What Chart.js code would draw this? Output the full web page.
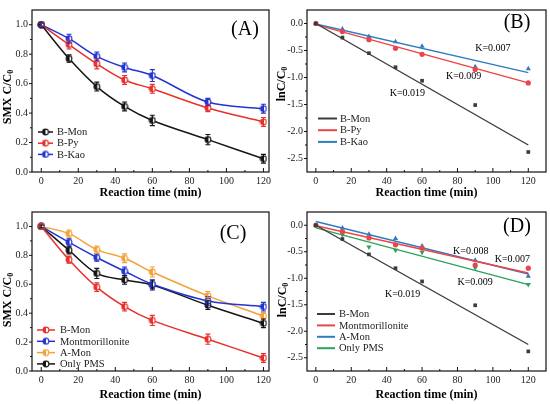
<!DOCTYPE html>
<html>
<head>
<meta charset="utf-8">
<script src="https://cdn.jsdelivr.net/npm/chart.js@4.4.1/dist/chart.umd.min.js"></script>
<style>
  body { margin: 0; background: #fff; }
  #wrap { position: relative; width: 550px; height: 404px; }
  .panel { position: absolute; width: 275px; height: 202px; }
</style>
</head>
<body>
<div id="wrap">
  <div class="panel" style="left:0;top:0"><canvas id="chartA" width="275" height="202"></canvas></div>
  <div class="panel" style="left:275px;top:0"><canvas id="chartB" width="275" height="202"></canvas></div>
  <div class="panel" style="left:0;top:202px"><canvas id="chartC" width="275" height="202"></canvas></div>
  <div class="panel" style="left:275px;top:202px"><canvas id="chartD" width="275" height="202"></canvas></div>
</div>
<script>
const times = [0, 15, 30, 45, 60, 90, 120];
const xTicks = [0, 20, 40, 60, 80, 100, 120];
const ratioTicks = [0.0, 0.2, 0.4, 0.6, 0.8, 1.0];
const lnTicks = [0.0, -0.5, -1.0, -1.5, -2.0, -2.5];

// panel A : C/C0
const namesA = ["B-Mon", "B-Py", "B-Kao"];
const bMonRatio = [1.0, 0.77, 0.58, 0.445, 0.35, 0.22, 0.09];
const bPyRatio = [1.0, 0.865, 0.735, 0.625, 0.565, 0.435, 0.34];
const bKaoRatio = [1.0, 0.905, 0.785, 0.71, 0.655, 0.475, 0.43];
const bMonErr = [0.01, 0.025, 0.03, 0.03, 0.035, 0.035, 0.03];
const bPyErr = [0.01, 0.03, 0.035, 0.03, 0.03, 0.025, 0.03];
const bKaoErr = [0.01, 0.03, 0.03, 0.03, 0.04, 0.025, 0.03];

// panel B : lnC/C0
const bMonLn = [0.0, -0.26, -0.55, -0.81, -1.06, -1.51, -2.38];
const bPyLn = [0.0, -0.15, -0.30, -0.46, -0.57, -0.85, -1.10];
const bKaoLn = [0.0, -0.10, -0.24, -0.34, -0.42, -0.80, -0.84];
const fitX = [0, 120];
const bMonFit = [0.0, -2.25];
const bPyFit = [-0.02, -1.10];
const bKaoFit = [-0.01, -0.91];
const kLabelsB = ["K=0.007", "K=0.009", "K=0.019"];

// panel C : C/C0
const namesC = ["B-Mon", "Montmorillonite", "A-Mon", "Only PMS"];
const montRatio = [1.0, 0.89, 0.785, 0.69, 0.60, 0.485, 0.445];
const aMonRatio = [1.0, 0.95, 0.84, 0.78, 0.685, 0.52, 0.38];
const pmsRatio = [1.0, 0.835, 0.675, 0.63, 0.595, 0.455, 0.33];
const montErr = [0.01, 0.025, 0.025, 0.03, 0.03, 0.03, 0.03];
const aMonErr = [0.01, 0.025, 0.025, 0.03, 0.035, 0.03, 0.025];
const pmsErr = [0.01, 0.025, 0.035, 0.03, 0.035, 0.03, 0.03];

// panel D : lnC/C0
const montLn = [0.0, -0.12, -0.24, -0.37, -0.43, -0.75, -0.81];
const aMonLn = [0.0, -0.05, -0.17, -0.25, -0.39, -0.66, -0.96];
const pmsLn = [0.0, -0.18, -0.41, -0.47, -0.51, -0.80, -1.12];
const montFit = [-0.01, -0.90];
const aMonFit = [0.07, -0.92];
const pmsFit = [-0.05, -1.12];
const kLabelsD = ["K=0.008", "K=0.007", "K=0.009", "K=0.019"];

const SERIF = "'Liberation Serif', 'Times New Roman', serif";
const BLACK = "#151515", RED = "#e8302c", BLUE = "#2434cf", ORANGE = "#f3a23a";
const GREY = "#3c3c3c", LRED = "#ec4448", LBLUE = "#2f7cc0", GREEN = "#2aa45c";

const pts = (xs, ys) => ys.map((v, i) => ({ x: xs[i], y: v }));

// half filled round marker like Origin uses
const halfDot = (color) => {
  const c = document.createElement("canvas");
  c.width = 8; c.height = 8;
  const g = c.getContext("2d");
  g.beginPath(); g.arc(4, 4, 2.9, 0, Math.PI * 2);
  g.fillStyle = "#fff"; g.fill();
  g.beginPath(); g.arc(4, 4, 2.9, Math.PI * 0.5, Math.PI * 1.5);
  g.fillStyle = color; g.fill();
  g.beginPath(); g.arc(4, 4, 2.9, 0, Math.PI * 2);
  g.lineWidth = 1.1; g.strokeStyle = color; g.stroke();
  return c;
};

const curveSet = (label, values, errs, color) => ({
  type: "line", label: label, data: pts(times, values), errors: errs,
  borderColor: color, borderWidth: 1.5, tension: 0.35, fill: false,
  pointStyle: halfDot(color), pointRadius: 3.5, legendMarker: true
});

const fitSets = (label, values, fit, color, style, size, rot) => [
  { type: "line", label: label, data: pts(fitX, fit), borderColor: color,
    borderWidth: 1.4, pointRadius: 0, fill: false, tension: 0 },
  { type: "scatter", label: "", data: pts(times, values), showLine: false,
    pointStyle: style, pointRadius: size, pointRotation: rot || 0,
    backgroundColor: color, borderColor: color, borderWidth: 0, hideLegend: true }
];

const decor = {
  id: "decor",
  afterDatasetsDraw(chart, args, opt) {
    const ctx = chart.ctx;
    const a = chart.chartArea;
    const xs = chart.scales.x, ys = chart.scales.y;
    ctx.save();

    // error bars
    chart.data.datasets.forEach((ds) => {
      if (!ds.errors) return;
      ctx.strokeStyle = ds.borderColor; ctx.lineWidth = 1.1;
      ds.data.forEach((p, i) => {
        const px = xs.getPixelForValue(p.x);
        const t = ys.getPixelForValue(p.y + ds.errors[i]);
        const b = ys.getPixelForValue(p.y - ds.errors[i]);
        ctx.beginPath();
        ctx.moveTo(px, t); ctx.lineTo(px, b);
        ctx.moveTo(px - 2.5, t); ctx.lineTo(px + 2.5, t);
        ctx.moveTo(px - 2.5, b); ctx.lineTo(px + 2.5, b);
        ctx.stroke();
      });
    });

    // frame, inward x ticks, outward y ticks
    ctx.strokeStyle = "#111"; ctx.lineWidth = 1.2;
    ctx.strokeRect(a.left, a.top, a.right - a.left, a.bottom - a.top);
    ctx.lineWidth = 1;
    const xt = xs.ticks.map(t => t.value), yt = ys.ticks.map(t => t.value);
    ctx.beginPath();
    xt.forEach((v, i) => {
      const px = xs.getPixelForValue(v);
      ctx.moveTo(px, a.bottom); ctx.lineTo(px, a.bottom - 4);
      if (i < xt.length - 1) {
        const m = xs.getPixelForValue((v + xt[i + 1]) / 2);
        ctx.moveTo(m, a.bottom); ctx.lineTo(m, a.bottom - 2);
      }
    });
    yt.forEach((v, i) => {
      const py = ys.getPixelForValue(v);
      ctx.moveTo(a.left, py); ctx.lineTo(a.left - 3, py);
      if (i < yt.length - 1) {
        const m = ys.getPixelForValue((v + yt[i + 1]) / 2);
        ctx.moveTo(a.left, m); ctx.lineTo(a.left - 2, m);
      }
    });
    ctx.stroke();

    // y title with subscript
    ctx.fillStyle = "#000";
    ctx.translate(opt.yTitle.x, opt.yTitle.y);
    ctx.rotate(-Math.PI / 2);
    ctx.font = "bold 12px " + SERIF;
    const main = opt.yTitle.text;
    const w1 = ctx.measureText(main).width;
    ctx.font = "bold 8px " + SERIF;
    const w2 = ctx.measureText("0").width;
    ctx.textBaseline = "middle"; ctx.textAlign = "left";
    ctx.font = "bold 12px " + SERIF;
    ctx.fillText(main, -(w1 + w2) / 2, 0);
    ctx.font = "bold 8px " + SERIF;
    ctx.fillText("0", -(w1 + w2) / 2 + w1, 3);
    ctx.setTransform(chart.currentDevicePixelRatio, 0, 0, chart.currentDevicePixelRatio, 0, 0);

    // panel label
    ctx.font = "20px " + SERIF;
    ctx.textAlign = "center"; ctx.textBaseline = "middle";
    ctx.fillText(opt.label, opt.labelPos[0], opt.labelPos[1]);

    // rate constant notes
    ctx.font = "10px " + SERIF;
    (opt.notes || []).forEach((n) => {
      ctx.fillText(n.text, xs.getPixelForValue(n.x), ys.getPixelForValue(n.y));
    });

    // legend
    const lg = opt.legend;
    let row = 0;
    ctx.font = "10.5px " + SERIF;
    ctx.textAlign = "left";
    chart.data.datasets.forEach((ds) => {
      if (ds.hideLegend) return;
      const y = lg.y + row * lg.dy;
      ctx.strokeStyle = ds.borderColor; ctx.lineWidth = lg.marker ? 1.5 : 2;
      ctx.beginPath(); ctx.moveTo(lg.x, y); ctx.lineTo(lg.x + lg.len, y); ctx.stroke();
      if (lg.marker) ctx.drawImage(ds.pointStyle, lg.x + lg.len / 2 - 4, y - 4);
      ctx.fillStyle = "#222";
      ctx.fillText(ds.label, lg.x + lg.len + lg.gap, y + 0.5);
      row++;
    });
    ctx.restore();
  }
};

const makeChart = (id, datasets, cfg) => {
  return new Chart(document.getElementById(id), {
    data: { datasets: datasets },
    plugins: [decor],
    options: {
      responsive: false,
      animation: false,
      layout: { padding: cfg.pad },
      plugins: { legend: { display: false }, tooltip: { enabled: false }, decor: cfg.decor },
      scales: {
        x: {
          type: "linear", min: cfg.xRange[0], max: cfg.xRange[1],
          grid: { display: false, drawTicks: false }, border: { display: false },
          afterBuildTicks: (s) => { s.ticks = xTicks.map(v => ({ value: v })); },
          afterFit: (s) => { s.height = cfg.xHeight; },
          ticks: { color: "#222", padding: 3, font: { family: SERIF, size: 10 }, maxRotation: 0 },
          title: { display: true, text: "Reaction time (min)", color: "#000",
                   font: { family: SERIF, size: 12, weight: "bold" }, padding: { top: 0, bottom: 2 } }
        },
        y: {
          type: "linear", min: cfg.yRange[0], max: cfg.yRange[1],
          grid: { display: false, drawTicks: false }, border: { display: false },
          afterBuildTicks: (s) => { s.ticks = cfg.yTicks.map(v => ({ value: v })); },
          afterFit: (s) => { s.width = 32; },
          ticks: { color: "#222", padding: 4, font: { family: SERIF, size: 10 },
                   callback: (v) => v.toFixed(1) }
        }
      }
    }
  });
};

makeChart("chartA", [
  curveSet(namesA[0], bMonRatio, bMonErr, BLACK),
  curveSet(namesA[1], bPyRatio, bPyErr, RED),
  curveSet(namesA[2], bKaoRatio, bKaoErr, BLUE)
], {
  pad: { left: 0, right: 6, top: 4, bottom: 0 }, xHeight: 30,
  xRange: [-5, 123], yRange: [0, 1.1], yTicks: ratioTicks,
  decor: {
    label: "(A)", labelPos: [245, 30],
    yTitle: { text: "SMX C/C", x: 8, y: 97 },
    legend: { x: 38, y: 132, dy: 11.2, len: 15, gap: 4, marker: true }
  }
});

makeChart("chartB", [
  ...fitSets(namesA[0], bMonLn, bMonFit, GREY, "rect", 2.6),
  ...fitSets(namesA[1], bPyLn, bPyFit, LRED, "circle", 2.6),
  ...fitSets(namesA[2], bKaoLn, bKaoFit, LBLUE, "triangle", 3)
], {
  pad: { left: 0, right: 3, top: 4, bottom: 0 }, xHeight: 30,
  xRange: [-5, 130], yRange: [-2.75, 0.25], yTicks: lnTicks,
  decor: {
    label: "(B)", labelPos: [242, 23],
    yTitle: { text: "lnC/C", x: 7, y: 84 },
    legend: { x: 43, y: 118.5, dy: 11.7, len: 19, gap: 3, marker: false },
    notes: [
      { text: kLabelsB[0], x: 100, y: -0.455 },
      { text: kLabelsB[1], x: 83.5, y: -0.97 },
      { text: kLabelsB[2], x: 51.7, y: -1.30 }
    ]
  }
});

makeChart("chartC", [
  curveSet(namesC[0], bMonRatio, bMonErr, RED),
  curveSet(namesC[1], montRatio, montErr, BLUE),
  curveSet(namesC[2], aMonRatio, aMonErr, ORANGE),
  curveSet(namesC[3], pmsRatio, pmsErr, BLACK)
], {
  pad: { left: 0, right: 6, top: 2, bottom: 0 }, xHeight: 33,
  xRange: [-5, 123], yRange: [0, 1.1], yTicks: ratioTicks,
  decor: {
    label: "(C)", labelPos: [233, 32],
    yTitle: { text: "SMX C/C", x: 8, y: 98 },
    legend: { x: 37, y: 128, dy: 11.3, len: 18, gap: 5, marker: true }
  }
});

makeChart("chartD", [
  ...fitSets(namesC[0], bMonLn, bMonFit, GREY, "rect", 2.6),
  ...fitSets(namesC[1], montLn, montFit, LRED, "circle", 2.6),
  ...fitSets(namesC[2], aMonLn, aMonFit, LBLUE, "triangle", 3),
  ...fitSets(namesC[3], pmsLn, pmsFit, GREEN, "triangle", 3, 180)
], {
  pad: { left: 0, right: 3, top: 2, bottom: 0 }, xHeight: 33,
  xRange: [-5, 130], yRange: [-2.75, 0.25], yTicks: lnTicks,
  decor: {
    label: "(D)", labelPos: [242, 25],
    yTitle: { text: "lnC/C", x: 8, y: 98 },
    legend: { x: 42, y: 112, dy: 11.4, len: 18, gap: 4, marker: false },
    notes: [
      { text: kLabelsD[0], x: 87.5, y: -0.50 },
      { text: kLabelsD[1], x: 111, y: -0.64 },
      { text: kLabelsD[2], x: 90, y: -1.08 },
      { text: kLabelsD[3], x: 49, y: -1.31 }
    ]
  }
});
</script>
</body>
</html>
